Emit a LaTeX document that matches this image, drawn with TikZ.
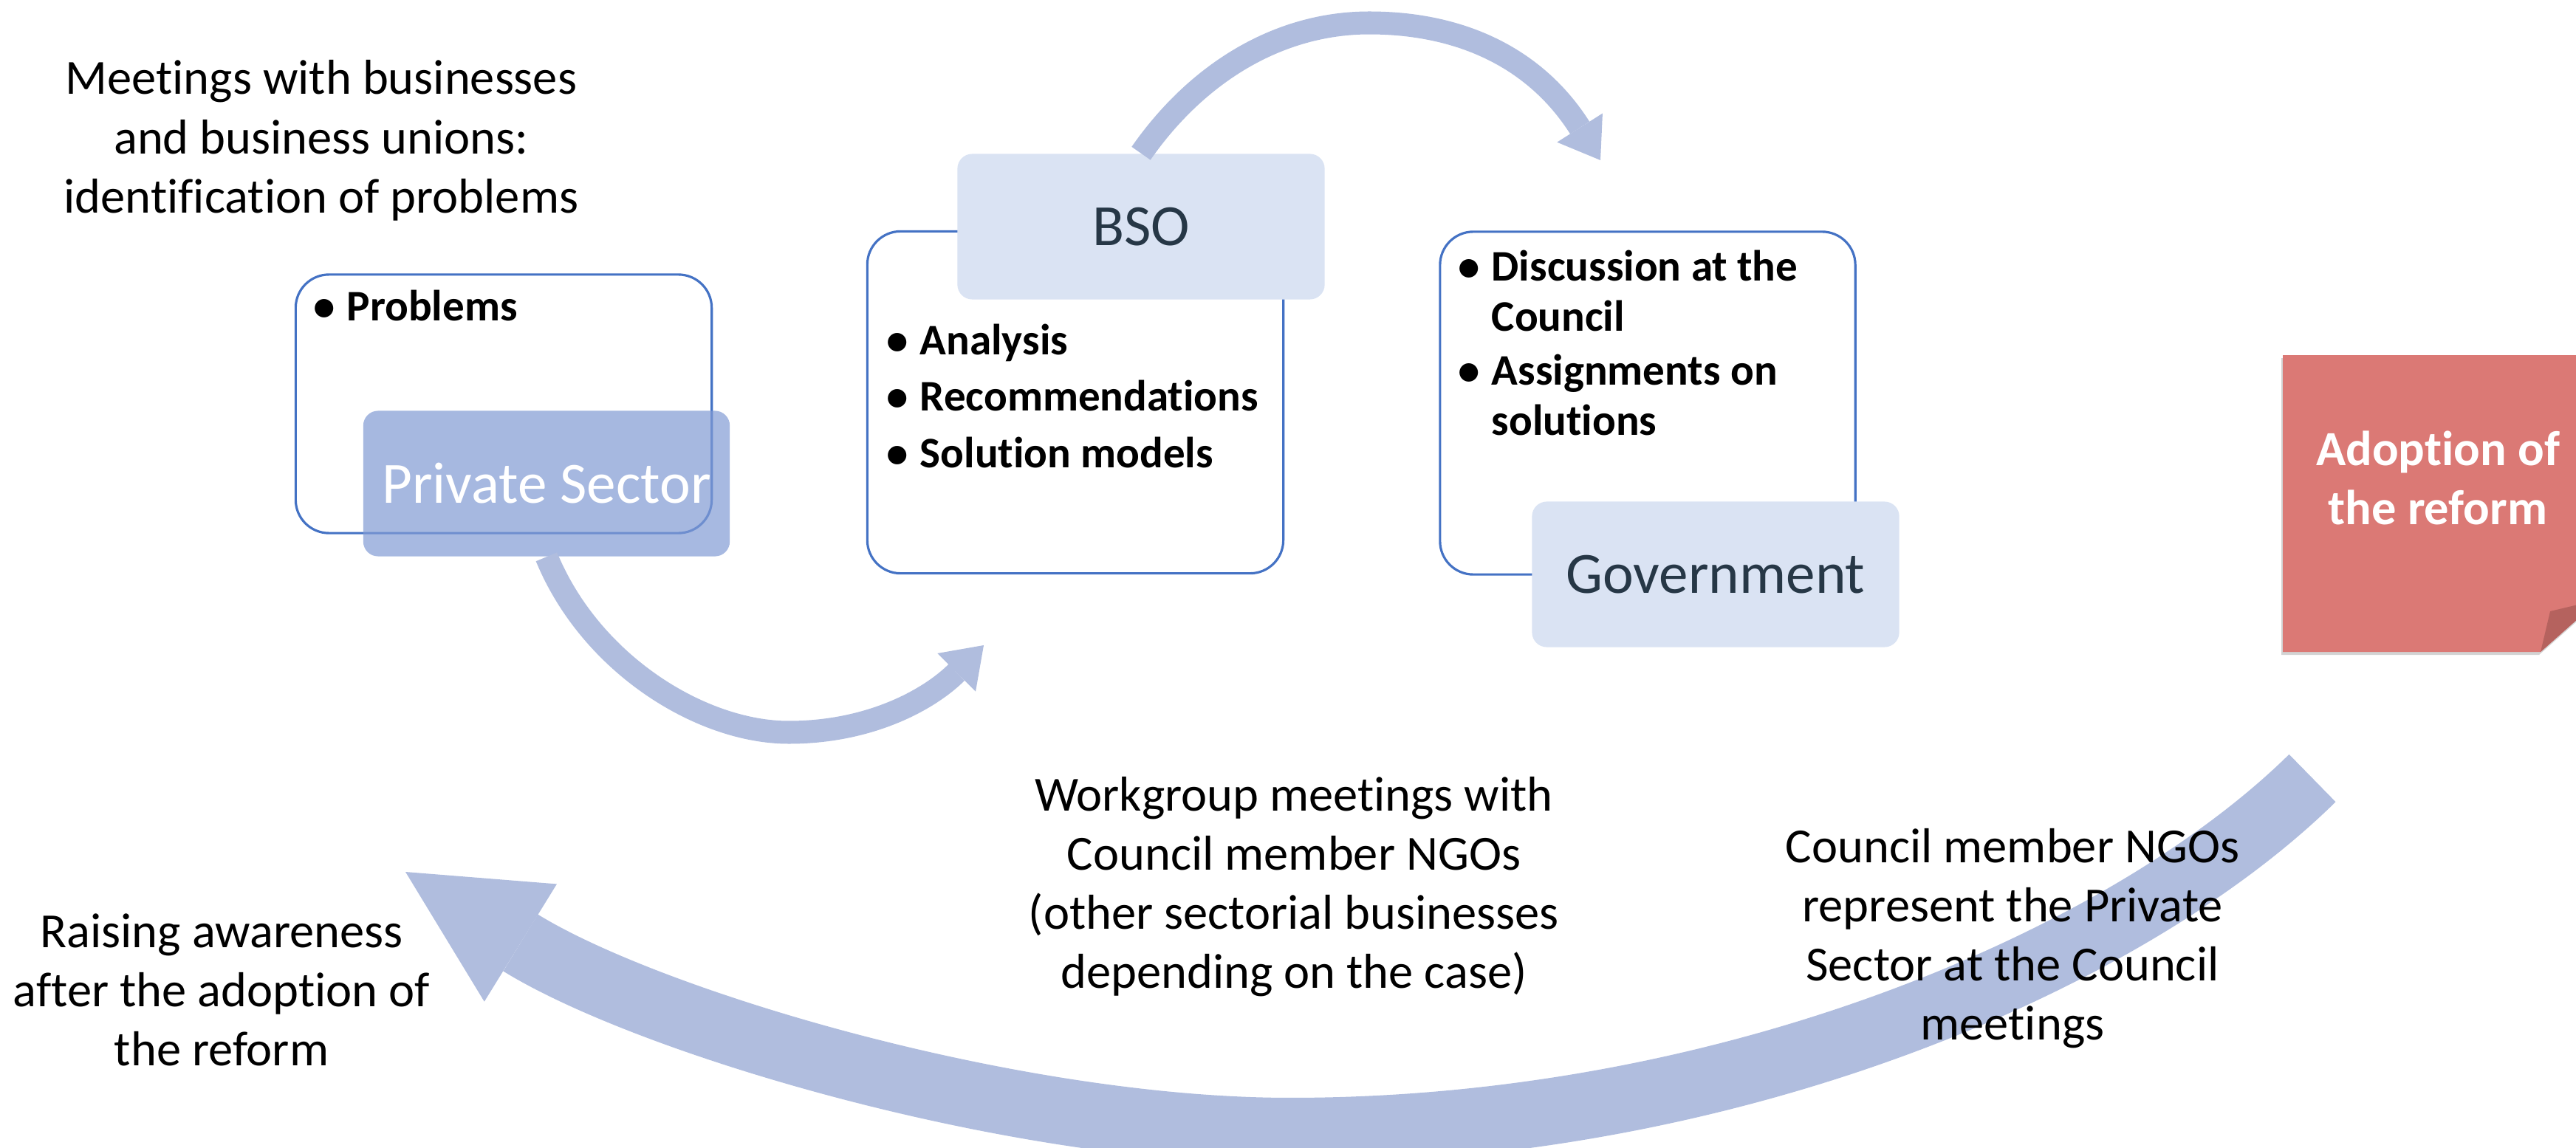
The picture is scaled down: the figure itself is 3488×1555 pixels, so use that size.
\documentclass[tikz,border=0pt]{standalone}
\usepackage{fontspec}
\setmainfont[Ligatures=NoCommon]{Carlito}
\usetikzlibrary{arrows.meta,shadows}
\definecolor{arrowblue}{RGB}{176,189,222}
\definecolor{lineblue}{RGB}{68,114,196}
\definecolor{paleblue}{RGB}{218,227,243}
\definecolor{midblue}{RGB}{129,155,212}
\definecolor{darktext}{RGB}{38,55,70}
\definecolor{notered}{RGB}{219,121,117}
\definecolor{notefold}{RGB}{181,98,94}
\newcommand{\blt}{\makebox[0.45cm][l]{\textbullet}}

\begin{document}
\begin{tikzpicture}[x=0.01cm,y=-0.01cm,
  listbox/.style={draw=lineblue,line width=0.9pt,fill=white,rounded corners=0.45cm,inner sep=0pt},
  headbox/.style={fill=paleblue,rounded corners=0.2cm,inner sep=0pt,text=darktext,
    font=\fontsize{22.5}{27}\selectfont,minimum width=4.97cm,minimum height=1.97cm},
  psbox/.style={fill=midblue,fill opacity=0.7,text opacity=1,rounded corners=0.2cm,inner sep=0pt,
    text=white,font=\fontsize{22.5}{27}\selectfont,minimum width=4.96cm,minimum height=1.97cm},
  bigarrow/.style={arrowblue,line width=0.9cm,-{Triangle[width=1.87cm,length=1.83cm,line width=0pt]}},
  smallarrow/.style={arrowblue,line width=0.31cm,-{Triangle[width=0.73cm,length=0.52cm,line width=0pt]}},
  plaintext/.style={font=\fontsize{18.9}{22.8}\selectfont,inner sep=0pt,anchor=base},
  items/.style={font=\bfseries\fontsize{16.8}{19.4}\selectfont,inner sep=0pt,anchor=base west}]
\useasboundingbox (0,0) rectangle (3488,1555);

% boxes
\node[listbox,minimum width=5.63cm,minimum height=3.5cm] (probbox) at (682,547) {};
\node[psbox] (private) at (740,655) {Private Sector};
\node[listbox,minimum width=5.63cm,minimum height=4.63cm] (bsobox) at (1456,545) {};
\node[headbox] (bso) at (1545,307) {BSO};
\node[listbox,minimum width=5.62cm,minimum height=4.64cm] (govbox) at (2231,546) {};
\node[headbox] (gov) at (2323,778) {Government};

\fill[notered,drop shadow={shadow xshift=-0.02cm,shadow yshift=-0.04cm,opacity=0.35}]
  (3091,481) -- (3520,481) -- (3520,812) -- (3440,883) -- (3091,883) -- cycle;
\fill[notefold] (3440,883) -- (3453,828) -- (3520,812) -- cycle;

% arrows
\coordinate (tipbso) at (1332,874);
\coordinate (tipgov) at (2167,217);
\coordinate (tailback) at (3131,1054);
\coordinate (tipback) at (549,1181);
\draw[smallarrow] (private.south) .. controls (800,900) and (950,992) .. (1068,992)
  .. controls (1180,992) and (1260,946) .. (tipbso);
\draw[smallarrow] (bso.north) .. controls (1620,100) and (1730,31) .. (1854,31)
  .. controls (1980,31) and (2080,80) .. (tipgov);
\draw[bigarrow] (tailback) .. controls (2882,1299) and (2347,1532) .. (1747,1532)
  .. controls (1372,1532) and (880,1385) .. (tipback);

% lists
\node[items] (problist) at (424,435) {\blt Problems};
\node[items] (bsolist) at (1200,480) {\begin{tabular}[t]{@{}l@{}l@{}}
  \blt&Analysis\\[2.4pt]\blt&Recommendations\\[2.4pt]\blt&Solution models\end{tabular}};
\node[items] (govlist) at (1974,380) {\begin{tabular}[t]{@{}l@{}l@{}}
  \blt&Discussion at the\\&Council\\[1.4pt]\blt&Assignments on\\&solutions\end{tabular}};

% texts
\node[plaintext] (meetings) at (435,128) {\begin{tabular}[t]{@{}c@{}}Meetings with businesses\\
  and business unions:\\identification of problems\end{tabular}};
\node[plaintext] (workgroup) at (1752,1098) {\begin{tabular}[t]{@{}c@{}}Workgroup meetings with\\
  Council member NGOs\\(other sectorial businesses\\depending on the case)\end{tabular}};
\node[plaintext] (represent) at (2725,1168) {\begin{tabular}[t]{@{}c@{}}Council member NGOs\\
  represent the Private\\Sector at the Council\\meetings\end{tabular}};
\node[plaintext] (awareness) at (300,1283) {\begin{tabular}[t]{@{}c@{}}Raising awareness\\
  after the adoption of\\the reform\end{tabular}};
\node[plaintext,text=white,font=\bfseries\fontsize{18.9}{22.8}\selectfont] (adoption) at (3301,630)
  {\begin{tabular}[t]{@{}c@{}}Adoption of\\the reform\end{tabular}};
\end{tikzpicture}
\end{document}
